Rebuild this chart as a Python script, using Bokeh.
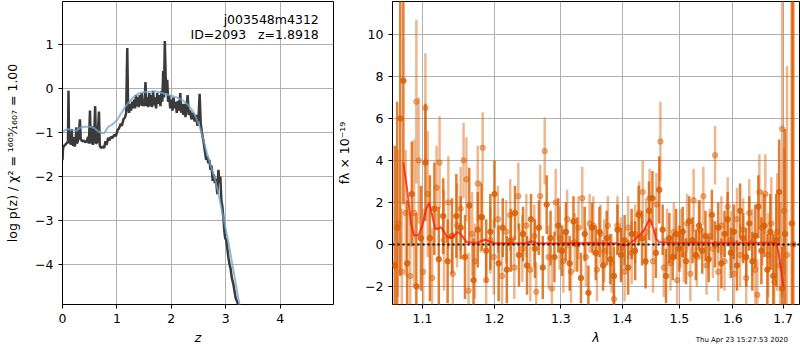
from bokeh.plotting import figure
from bokeh.models import (Range1d, FixedTicker, CustomJSTickFormatter, Label, Span,
                          ColumnDataSource, Div)
from bokeh.layouts import row, column
from bokeh.embed import file_html
from bokeh.resources import INLINE

FONT = "DejaVu Sans"

# ---------------- p(z) panel data ----------------
pz_z = [0.000, 0.010, 0.030, 0.050, 0.070, 0.090, 0.100, 0.110, 0.120, 0.130,
        0.145, 0.155, 0.170, 0.180, 0.200, 0.215, 0.225, 0.240, 0.255, 0.265,
        0.285, 0.300, 0.320, 0.335, 0.350, 0.370, 0.395, 0.420, 0.445, 0.470,
        0.485, 0.505, 0.520, 0.545, 0.560, 0.580, 0.600, 0.615, 0.640, 0.670,
        0.685, 0.710, 0.740, 0.765, 0.790, 0.810, 0.840, 0.860, 0.890, 0.920,
        0.950, 0.980, 1.010, 1.040, 1.070, 1.090, 1.120, 1.150, 1.170, 1.190,
        1.205, 1.225, 1.245, 1.260, 1.280, 1.295, 1.320, 1.335, 1.350, 1.365,
        1.385, 1.400, 1.420, 1.435, 1.455, 1.470, 1.490, 1.505, 1.525, 1.540,
        1.560, 1.575, 1.595, 1.610, 1.625, 1.645, 1.665, 1.680, 1.700, 1.720,
        1.740, 1.760, 1.780, 1.800, 1.820, 1.835, 1.850, 1.865, 1.880, 1.895,
        1.910, 1.925, 1.940, 1.960, 1.980, 2.000, 2.020, 2.040, 2.060, 2.080,
        2.100, 2.120, 2.140, 2.165, 2.180, 2.200, 2.220, 2.240, 2.260, 2.280,
        2.300, 2.320, 2.345, 2.370, 2.400, 2.430, 2.455, 2.480, 2.505, 2.520,
        2.540, 2.560, 2.590, 2.620, 2.640, 2.660, 2.680, 2.700, 2.720, 2.740,
        2.760, 2.780, 2.800, 2.820, 2.845, 2.865, 2.885, 2.900, 2.920, 2.940,
        2.960, 2.975, 2.990, 3.010, 3.030, 3.050, 3.070, 3.090, 3.110, 3.140,
        3.160, 3.180, 3.210, 3.240]
pz_logp = [-1.63, -1.35, -1.30, -1.28, -1.25, -1.22, -1.20, -0.05, -1.15, -1.25,
           -1.05, -1.28, -0.92, -1.25, -1.30, -1.10, -1.32, -1.22, -0.88, -1.25,
           -1.18, -1.05, -0.70, -1.15, -1.18, -1.20, -1.18, -1.22, -1.20, -1.10,
           -1.25, -0.50, -1.25, -0.85, -1.28, -1.15, -0.40, -1.25, -1.22, -0.52,
           -1.30, -1.35, -1.32, -1.35, -1.20, -1.28, -1.12, -1.18, -1.10, -1.12,
           -1.05, -1.08, -0.95, -0.90, -0.80, -0.85, -0.70, -0.65, -0.55, 0.92,
           -0.40, -0.55, -0.35, -0.50, -0.30, -0.45, -0.25, -0.45, -0.15, -0.40,
           -0.20, -0.42, -0.15, -0.38, -0.10, -0.40, -0.25, -0.40, 0.15, -0.40,
           -0.20, -0.42, -0.10, -0.40, -0.15, -0.42, -0.05, -0.38, -0.20, -0.45,
           -0.10, -0.35, -0.15, -0.40, -0.05, -0.30, 0.40, -0.20, 1.08, 0.30,
           -0.10, 0.20, -0.30, -0.15, -0.45, -0.25, -0.50, -0.20, -0.45, -0.30,
           -0.55, -0.28, -0.50, -0.10, -0.55, -0.35, -0.60, -0.35, -0.65, -0.40,
           -0.15, -0.60, -0.50, -0.70, -0.55, -0.75, -0.60, -0.85, -0.55, -0.12,
           -0.80, -0.98, -1.20, -1.45, -1.62, -1.55, -1.70, -1.62, -1.85, -1.75,
           -2.10, -1.95, -2.15, -2.05, -2.40, -1.85, -2.15, -2.00, -2.55, -2.70,
           -3.00, -3.25, -3.40, -3.45, -3.65, -3.85, -4.00, -4.10, -4.30, -4.45,
           -4.60, -4.75, -4.85, -4.95]
prior_z = [0.00, 0.05, 0.12, 0.20, 0.26, 0.32, 0.40, 0.50, 0.58, 0.65,
           0.72, 0.77, 0.80, 0.84, 0.90, 0.95, 1.00, 1.05, 1.10, 1.15,
           1.20, 1.25, 1.30, 1.35, 1.40, 1.50, 1.60, 1.70, 1.80, 1.90,
           2.00, 2.10, 2.20, 2.30, 2.40, 2.45, 2.50, 2.55, 2.60, 2.65,
           2.70, 2.75, 2.80, 2.85, 2.90, 2.95, 3.00, 3.05, 3.10, 3.15,
           3.20, 3.25, 3.27]
prior_logp = [-1.00, -0.94, -0.92, -0.95, -0.96, -0.89, -0.87, -0.87, -0.89, -0.97,
              -1.01, -1.01, -0.95, -0.87, -0.83, -0.78, -0.72, -0.62, -0.52, -0.42,
              -0.34, -0.27, -0.20, -0.15, -0.11, -0.08, -0.07, -0.06, -0.09, -0.13,
              -0.16, -0.20, -0.26, -0.36, -0.52, -0.65, -0.80, -0.98, -1.22, -1.45,
              -1.65, -1.85, -2.05, -2.30, -2.60, -2.90, -3.20, -3.50, -3.85, -4.20,
              -4.55, -4.90, -5.00]

# ---------------- spectrum panel data ----------------
spec1_wave = [1.064, 1.067, 1.071, 1.075, 1.080, 1.086, 1.092, 1.098, 1.104, 1.110,
              1.116, 1.122, 1.128, 1.134, 1.140, 1.146, 1.152, 1.158, 1.164, 1.170,
              1.176, 1.182, 1.188, 1.194, 1.200, 1.206, 1.212, 1.218, 1.224, 1.230,
              1.236, 1.242, 1.248, 1.254, 1.260, 1.266, 1.272, 1.278, 1.284, 1.290,
              1.296, 1.302, 1.308, 1.314, 1.320, 1.326, 1.332, 1.338, 1.344, 1.350,
              1.356, 1.362, 1.368, 1.374, 1.380, 1.386, 1.392, 1.398, 1.404, 1.410,
              1.416, 1.422, 1.428, 1.434, 1.440, 1.446, 1.452, 1.458, 1.464, 1.470,
              1.476, 1.482, 1.488, 1.494, 1.500, 1.506, 1.512, 1.518, 1.524, 1.530,
              1.536, 1.542, 1.548, 1.554, 1.560, 1.566, 1.572, 1.578, 1.584, 1.590,
              1.596, 1.602, 1.608, 1.614, 1.620, 1.626, 1.632, 1.638, 1.644, 1.650,
              1.656, 1.662, 1.668, 1.674, 1.680, 1.686, 1.692, 1.698, 1.704, 1.718,
              1.721]
spec1_flux = [-1.0, 0.8, 6.0, 7.8, -0.9, 2.4, -2.0, 0.3, 3.9, 0.3,
              1.7, -0.7, 1.35, -0.8, 0.4, 1.35, 0.8, -0.6, 1.85, -1.7,
              0.7, 1.3, -0.3, 0.6, 2.4, -0.9, 0.8, -1.2, 0.2, 1.5,
              -0.5, 0.5, -1.0, 1.2, -0.2, 0.8, -1.1, 1.9, 0.3, -0.6,
              0.9, -0.3, 0.6, -0.9, 1.1, 0.0, -1.6, 0.5, -2.3, 0.8,
              -0.4, 0.6, -1.0, 0.3, -0.7, -1.5, 0.7, -0.5, 0.2, -1.1,
              0.5, -0.3, 1.4, 0.3, -0.8, 1.6, 2.2, -0.4, 2.6, 0.7,
              -1.5, 0.3, -0.6, 0.5, -0.2, 0.6, -0.8, 1.1, 0.2, -0.5,
              0.9, -0.3, 0.4, -0.7, 1.4, 0.0, 0.8, -0.9, 0.5, 1.2,
              -0.4, 0.6, -1.0, 1.6, 0.3, -0.6, 1.0, -0.8, 0.4, 1.8,
              -0.3, 0.9, -1.2, 0.6, -1.5, 0.2, 2.5, -2.1, 0.5, 1.0,
              0.0]
spec1_err = [5.7, 6.0, 7.5, 5.9, 3.0, 2.5, 3.5, 2.5, 2.8, 3.0,
             2.2, 2.5, 1.8, 2.0, 1.8, 2.0, 1.5, 2.0, 1.8, 2.0,
             1.8, 1.6, 1.5, 1.8, 1.6, 1.8, 1.4, 1.6, 1.5, 1.3,
             1.5, 1.3, 1.4, 1.2, 1.4, 1.3, 1.5, 1.4, 1.3, 1.2,
             1.3, 1.2, 1.4, 1.3, 1.2, 1.3, 1.2, 1.3, 1.3, 1.2,
             1.3, 1.2, 1.2, 1.3, 1.2, 1.4, 1.2, 1.3, 1.2, 1.3,
             1.2, 1.4, 1.4, 1.3, 1.3, 1.4, 1.3, 1.2, 1.6, 1.2,
             1.3, 1.2, 1.1, 1.2, 1.1, 1.2, 1.1, 1.2, 1.1, 1.2,
             1.2, 1.1, 1.2, 1.1, 1.2, 1.1, 1.2, 1.2, 1.1, 1.3,
             1.2, 1.3, 1.2, 1.3, 1.2, 1.4, 1.3, 1.4, 1.5, 1.5,
             1.6, 1.5, 1.7, 1.8, 2.0, 2.2, 2.5, 2.0, 5.0, 16.0,
             16.0]

spec2_wave = [1.068, 1.073, 1.078, 1.084, 1.089, 1.092, 1.095, 1.101, 1.104, 1.107,
              1.113, 1.119, 1.123, 1.129, 1.135, 1.141, 1.147, 1.152, 1.156, 1.160,
              1.163, 1.168, 1.172, 1.176, 1.180, 1.183, 1.188, 1.194, 1.199, 1.205,
              1.211, 1.217, 1.223, 1.229, 1.235, 1.241, 1.247, 1.253, 1.259, 1.262,
              1.268, 1.275, 1.281, 1.286, 1.292, 1.298, 1.304, 1.310, 1.316, 1.322,
              1.328, 1.334, 1.340, 1.346, 1.352, 1.358, 1.364, 1.370, 1.376, 1.382,
              1.386, 1.392, 1.398, 1.404, 1.410, 1.416, 1.422, 1.429, 1.435, 1.441,
              1.447, 1.453, 1.459, 1.466, 1.472, 1.478, 1.484, 1.490, 1.496, 1.502,
              1.508, 1.514, 1.520, 1.526, 1.532, 1.538, 1.544, 1.550, 1.556, 1.562,
              1.566, 1.572, 1.578, 1.584, 1.590, 1.596, 1.602, 1.608, 1.614, 1.620,
              1.626, 1.632, 1.638, 1.644, 1.648, 1.652, 1.658, 1.664, 1.670, 1.676,
              1.682, 1.688, 1.694, 1.698, 1.702, 1.708]
spec2_flux = [1.0, -1.3, 1.5, -1.5, 1.5, 6.8, 4.0, -1.3, 6.5, 2.4,
              -1.6, 2.7, 3.9, 0.2, 2.0, -1.4, 0.9, 1.7, 4.0, 3.1,
              -2.2, 0.5, -0.8, 2.9, 1.3, 4.6, -1.7, 0.2, -0.6, 1.2,
              -1.5, 0.6, 1.4, -1.1, 2.3, -0.2, 0.9, -1.2, 0.4, -2.25,
              2.3, 4.45, -0.6, -2.1, 2.0, 0.3, -0.8, 1.2, -1.3, 0.1,
              0.8, 2.2, -0.6, 1.0, 0.9, -1.2, 0.5, -0.3, 0.9, -0.9,
              -2.6, 0.9, -0.2, -1.3, 0.8, -0.4, 0.5, 1.5, 2.5, 0.6,
              2.2, -0.8, 1.9, 4.9, -1.1, 0.2, -0.9, 0.6, -1.7, 0.3,
              -0.5, 1.0, -1.4, 2.1, -0.6, 0.7, 2.3, -1.0, 0.4, -0.2,
              4.25, -1.3, 0.9, -0.8, 1.8, 0.2, -1.4, 1.2, -0.5, 0.7,
              -1.6, 1.5, 0.1, -1.2, -2.4, 2.5, 0.8, 2.4, -0.5, 1.0,
              -1.8, 0.6, -1.0, 5.5, 1.6, -0.5]
spec2_err = [3.5, 3.0, 3.0, 3.0, 3.5, 3.9, 3.0, 3.0, 2.6, 3.0,
             2.4, 2.0, 2.2, 2.4, 2.2, 2.0, 2.0, 2.0, 1.8, 2.0,
             1.8, 2.0, 1.8, 1.8, 1.7, 1.7, 1.8, 1.6, 1.8, 1.6,
             1.6, 1.5, 1.7, 1.5, 1.6, 1.6, 1.5, 1.5, 1.5, 1.4,
             1.5, 1.6, 1.5, 1.4, 1.6, 1.5, 1.5, 1.4, 1.5, 1.4,
             1.5, 1.5, 1.4, 1.4, 1.4, 1.5, 1.4, 1.5, 1.4, 1.4,
             1.5, 1.4, 1.5, 1.4, 1.5, 1.5, 1.4, 1.5, 1.5, 1.6,
             1.4, 1.5, 1.5, 1.9, 1.4, 1.5, 1.3, 1.4, 1.4, 1.4,
             1.3, 1.4, 1.3, 1.5, 1.4, 1.4, 1.4, 1.4, 1.3, 1.4,
             1.4, 1.4, 1.4, 1.4, 1.4, 1.4, 1.5, 1.5, 1.5, 1.5,
             1.6, 1.6, 1.6, 1.7, 1.7, 1.8, 1.8, 1.9, 2.0, 2.2,
             2.4, 2.8, 3.0, 8.0, 3.0, 9.0]

model_wave = [1.075, 1.080, 1.085, 1.089, 1.095, 1.100, 1.105, 1.109, 1.113, 1.117,
              1.121, 1.125, 1.129, 1.133, 1.139, 1.145, 1.149, 1.154, 1.160, 1.168,
              1.176, 1.182, 1.187, 1.192, 1.199, 1.220, 1.245, 1.255, 1.262, 1.300,
              1.350, 1.390, 1.403, 1.410, 1.420, 1.430, 1.438, 1.444, 1.447, 1.451,
              1.455, 1.459, 1.464, 1.480, 1.550, 1.620, 1.680, 1.687, 1.692, 1.697,
              1.701]
model_flux = [3.9, 2.6, 1.0, 0.43, 0.45, 0.9, 1.7, 1.98, 1.4, 0.75,
              0.75, 0.82, 0.6, 0.35, 0.32, 0.5, 0.6, 0.4, 0.12, 0.08,
              0.08, 0.18, 0.22, 0.15, 0.07, 0.06, 0.06, 0.15, 0.07, 0.06,
              0.07, 0.06, -0.05, 0.0, 0.2, 0.45, 0.7, 1.05, 1.22, 1.0,
              0.6, 0.25, 0.1, 0.08, 0.08, 0.08, 0.08, 0.05, -0.6, -1.4,
              -2.0]

pz_xticks = [0, 1, 2, 3, 4]
pz_yticks = [-4, -3, -2, -1, 0, 1]
spec_xticks = [1.1, 1.2, 1.3, 1.4, 1.5, 1.6, 1.7]
spec_yticks = [-2, 0, 2, 4, 6, 8, 10]

obj_name = "j003548m4312"
obj_info = "ID=2093\u00a0\u00a0\u00a0z=1.8918"
stamp_text = "Thu Apr 23 15:27:53 2020"

MINUS_FMT = "return (tick < 0 ? '\\u2212' : '') + Math.abs(tick).toString();"


def style(p, xticks, yticks, xfmt, yfmt):
    p.outline_line_color = "black"
    p.outline_line_width = 1
    p.outline_line_alpha = 1
    p.xaxis.ticker = FixedTicker(ticks=xticks)
    p.yaxis.ticker = FixedTicker(ticks=yticks)
    p.xgrid.ticker = FixedTicker(ticks=xticks)
    p.ygrid.ticker = FixedTicker(ticks=yticks)
    p.xaxis.formatter = CustomJSTickFormatter(code=xfmt)
    p.yaxis.formatter = CustomJSTickFormatter(code=yfmt)
    for g in (p.xgrid, p.ygrid):
        g.grid_line_color = "#b0b0b0"
        g.grid_line_width = 1
    for ax in p.axis:
        ax.axis_line_color = None
        ax.major_tick_line_color = "black"
        ax.major_tick_out = 4
        ax.major_tick_in = 0
        ax.minor_tick_line_color = None
        ax.major_label_text_font = FONT
        ax.major_label_text_font_size = "12.5px"
        ax.major_label_text_color = "black"
        ax.major_label_standoff = 5
        ax.axis_label_text_font = FONT
        ax.axis_label_text_font_size = "12.5px"
        ax.axis_label_text_color = "black"
        ax.axis_label_text_font_style = "normal"
        ax.axis_label_standoff = 4


# ---------------- left: p(z) ----------------
p1 = figure(width=334, height=350, output_backend="svg", toolbar_location=None,
            x_range=Range1d(0, 4.98), y_range=Range1d(-4.91, 1.98),
            min_border_left=62, min_border_right=1, min_border_top=1,
            min_border_bottom=46)
style(p1, pz_xticks, pz_yticks, MINUS_FMT, MINUS_FMT)
p1.xaxis.axis_label = "z"
p1.xaxis.axis_label_text_font_style = "italic"
p1.yaxis.axis_label = "log p(z) / \u03c7\u00b2 = \u00b9\u2076\u2070\u2075\u2044\u2081\u2086\u2080\u2087 = 1.00"
p1.yaxis.axis_label_standoff = 12

p1.line(pz_z, pz_logp, line_color="#3a3a3a", line_width=2.5)
p1.line(prior_z, prior_logp, line_color="#6fa3cc", line_width=2, line_alpha=0.75)

p1.add_layout(Label(x=4.71, y=1.56, text=obj_name, text_align="right",
                    text_baseline="middle", text_font=FONT, text_font_size="12.5px",
                    text_color="black"))
p1.add_layout(Label(x=4.71, y=1.22, text=obj_info, text_align="right",
                    text_baseline="middle", text_font=FONT, text_font_size="12.5px",
                    text_color="black"))

# ---------------- right: spectrum ----------------
p2 = figure(width=466, height=350, output_backend="svg", toolbar_location=None,
            x_axis_type="log",
            x_range=Range1d(1.061, 1.734), y_range=Range1d(-2.86, 11.57),
            min_border_left=58, min_border_right=1, min_border_top=1,
            min_border_bottom=46)
style(p2, spec_xticks, spec_yticks, "return tick.toFixed(1);", MINUS_FMT)
p2.xaxis.axis_label = "\u03bb"
p2.xaxis.axis_label_text_font_style = "italic"
p2.yaxis.axis_label = "f\u03bb \u00d7 10\u207b\u00b9\u2079"
p2.yaxis.axis_label_standoff = 10

ORANGE = "#d95f02"

src1 = ColumnDataSource(dict(
    w=spec1_wave, f=spec1_flux,
    lo=[f - e for f, e in zip(spec1_flux, spec1_err)],
    hi=[f + e for f, e in zip(spec1_flux, spec1_err)]))
src2 = ColumnDataSource(dict(
    w=spec2_wave, f=spec2_flux,
    lo=[f - e for f, e in zip(spec2_flux, spec2_err)],
    hi=[f + e for f, e in zip(spec2_flux, spec2_err)]))

p2.segment(x0="w", y0="lo", x1="w", y1="hi", source=src1,
           line_color=ORANGE, line_alpha=0.8, line_width=2.5)
p2.scatter(x="w", y="f", source=src1, size=5.5, fill_color=ORANGE,
           line_color=ORANGE, fill_alpha=0.8, line_alpha=0.8)
p2.segment(x0="w", y0="lo", x1="w", y1="hi", source=src2,
           line_color=ORANGE, line_alpha=0.45, line_width=2.5)
p2.scatter(x="w", y="f", source=src2, size=5.5, fill_color=ORANGE,
           line_color=ORANGE, fill_alpha=0.45, line_alpha=0.45)

p2.line(model_wave, model_flux, line_color="#ff1a0a", line_width=2, line_alpha=0.8)

p2.add_layout(Span(location=0, dimension="width", line_color="black",
                   line_dash="2 3", line_width=2))

stamp = Div(text=stamp_text, width=454, height=10, margin=(-15, 0, 0, 0),
            styles={"text-align": "right", "font-size": "7px",
                    "font-family": FONT, "color": "black", "line-height": "10px"})

layout = row(p1, column(p2, stamp, spacing=0), spacing=0)
open("out.html", "w").write(file_html(layout, INLINE))
